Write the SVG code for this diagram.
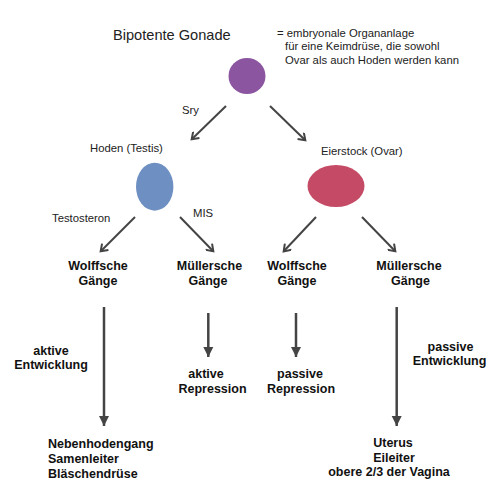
<svg xmlns="http://www.w3.org/2000/svg" width="500" height="500" viewBox="0 0 500 500">
<defs>
<marker id="open" markerWidth="10" markerHeight="10" refX="7" refY="5" orient="auto" markerUnits="userSpaceOnUse">
<path d="M1,0.5 L7.5,5 L1,9.5" fill="none" stroke="#444" stroke-width="2"/>
</marker>
<marker id="fill" markerWidth="12" markerHeight="12" refX="10" refY="6" orient="auto" markerUnits="userSpaceOnUse">
<path d="M0,1 L10,6 L0,11 Z" fill="#444"/>
</marker>
</defs>
<style>
.t{font-family:"Liberation Sans",Arial,sans-serif;font-size:11.3px;fill:#222}
.b{font-family:"Liberation Sans",Arial,sans-serif;font-size:12.5px;font-weight:bold;fill:#111;text-anchor:middle}
.d{stroke:#444;stroke-width:2;fill:none}
.v{stroke:#444;stroke-width:2.5;fill:none}
</style>
<rect width="500" height="500" fill="#fff"/>
<g id="gonade">
<text x="113" y="40" class="t" style="font-size:14.6px">Bipotente Gonade</text>
<ellipse cx="247" cy="76" rx="18.5" ry="18" fill="#8b55a0"/>
</g>
<g id="definition">
<text class="t"><tspan x="277" y="37">= embryonale Organanlage</tspan><tspan x="285" y="50">für eine Keimdrüse, die sowohl</tspan><tspan x="285" y="63.5">Ovar als auch Hoden werden kann</tspan></text>
</g>
<g id="hoden">
<text x="90" y="152" class="t">Hoden (Testis)</text>
<ellipse cx="154.7" cy="186.7" rx="18.7" ry="24" fill="#6e8fc2"/>
</g>
<g id="eierstock">
<text x="321" y="155" class="t">Eierstock (Ovar)</text>
<ellipse cx="336" cy="186" rx="28.5" ry="21" fill="#c44a65"/>
</g>
<g id="wolff1"><text class="b"><tspan x="98" y="270">Wolffsche</tspan><tspan x="98" y="285">Gänge</tspan></text></g>
<g id="mueller1"><text class="b"><tspan x="209.5" y="270">Müllersche</tspan><tspan x="208" y="285">Gänge</tspan></text></g>
<g id="wolff2"><text class="b"><tspan x="297" y="270">Wolffsche</tspan><tspan x="297" y="285">Gänge</tspan></text></g>
<g id="mueller2"><text class="b"><tspan x="409" y="270">Müllersche</tspan><tspan x="410.5" y="285">Gänge</tspan></text></g>
<g id="maennlich"><text class="b" style="text-anchor:start"><tspan x="48" y="448">Nebenhodengang</tspan><tspan x="48" y="463">Samenleiter</tspan><tspan x="48" y="478">Bläschendrüse</tspan></text></g>
<g id="weiblich"><text class="b"><tspan x="393" y="447">Uterus</tspan><tspan x="394" y="462">Eileiter</tspan><tspan x="389" y="476">obere 2/3 der Vagina</tspan></text></g>
<g id="connectors">
<line x1="226" y1="106" x2="192" y2="139" class="d" marker-end="url(#open)"/>
<line x1="270" y1="106" x2="305" y2="140" class="d" marker-end="url(#open)"/>
<line x1="135" y1="217" x2="101" y2="251" class="d" marker-end="url(#open)"/>
<line x1="180" y1="217" x2="213" y2="251" class="d" marker-end="url(#open)"/>
<line x1="316" y1="217" x2="284" y2="251" class="d" marker-end="url(#open)"/>
<line x1="362" y1="217" x2="395" y2="251" class="d" marker-end="url(#open)"/>
<line x1="104" y1="307" x2="104" y2="426" class="v" marker-end="url(#fill)"/>
<line x1="208.3" y1="313" x2="208.3" y2="357" class="v" marker-end="url(#fill)"/>
<line x1="296" y1="313" x2="296" y2="357" class="v" marker-end="url(#fill)"/>
<line x1="396.7" y1="307" x2="396.7" y2="426" class="v" marker-end="url(#fill)"/>
<text x="182" y="114" class="t">Sry</text>
<text x="52" y="222" class="t">Testosteron</text>
<text x="193" y="217" class="t">MIS</text>
<text class="b"><tspan x="51" y="355">aktive</tspan><tspan x="51" y="369">Entwicklung</tspan></text>
<text class="b"><tspan x="206" y="378">aktive</tspan><tspan x="212.5" y="393">Repression</tspan></text>
<text class="b"><tspan x="300" y="378">passive</tspan><tspan x="301" y="393">Repression</tspan></text>
<text class="b"><tspan x="450.5" y="351">passive</tspan><tspan x="449.5" y="365">Entwicklung</tspan></text>
</g>
</svg>
